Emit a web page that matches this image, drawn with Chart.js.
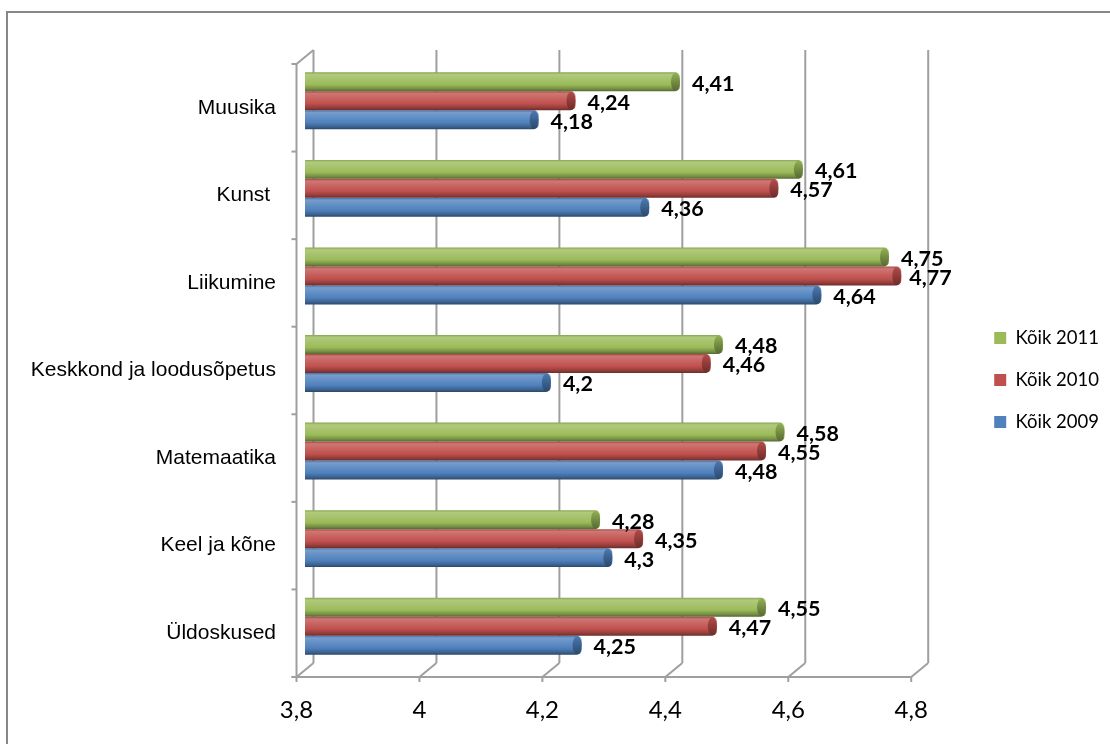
<!DOCTYPE html>
<html>
<head>
<meta charset="utf-8">
<script src="https://cdn.jsdelivr.net/npm/chart.js@4.4.1/dist/chart.umd.min.js"></script>
<style>
  html, body { margin: 0; padding: 0; background: #ffffff; }
  #wrap { width: 1110px; height: 744px; position: relative; }
</style>
</head>
<body>
<div id="wrap"><canvas id="chart" width="1110" height="744"></canvas></div>
<script>
// Subject areas, listed top to bottom
const categories = ['Muusika', 'Kunst ', 'Liikumine', 'Keskkond ja loodusõpetus', 'Matemaatika', 'Keel ja kõne', 'Üldoskused'];
const seriesNames = ['Kõik 2011', 'Kõik 2010', 'Kõik 2009'];
const koik2011 = [4.41, 4.61, 4.75, 4.48, 4.58, 4.28, 4.55];
const koik2010 = [4.24, 4.57, 4.77, 4.46, 4.55, 4.35, 4.47];
const koik2009 = [4.18, 4.36, 4.64, 4.20, 4.48, 4.30, 4.25];
const xTickLabels = ['3,8', '4', '4,2', '4,4', '4,6', '4,8'];

const seriesColors = ['#9BBB59', '#C0504D', '#4F81BD'];
const GRID = '#9f9f9f';
const DEPTH_X = 8.5;   // half depth of the 3D box, horizontal
const DEPTH_Y = 7;     // half depth of the 3D box, vertical

function mix(hex, target, f) {
  const n = parseInt(hex.slice(1), 16);
  const r = (n >> 16) & 255, g = (n >> 8) & 255, b = n & 255;
  const t = target === 'w' ? 255 : 0;
  const m = c => Math.round(c + (t - c) * f);
  return `rgb(${m(r)},${m(g)},${m(b)})`;
}

// Back wall, floor and left wall of the 3D frame, drawn behind the bars
const frame3d = {
  id: 'frame3d',
  beforeDraw(chart) {
    const ctx = chart.ctx;
    ctx.save();
    ctx.strokeStyle = '#878787';
    ctx.lineWidth = 2;
    ctx.strokeRect(7, 12, 1300, 1000);
    ctx.restore();
  },
  beforeDatasetsDraw(chart) {
    const { ctx, chartArea: { top, bottom }, scales: { x } } = chart;
    const xs = x.ticks.map(t => x.getPixelForValue(t.value));
    ctx.save();
    ctx.strokeStyle = GRID;
    ctx.lineWidth = 2;
    ctx.lineCap = 'butt';
    const line = (x1, y1, x2, y2) => { ctx.beginPath(); ctx.moveTo(x1, y1); ctx.lineTo(x2, y2); ctx.stroke(); };
    // back wall verticals, floor diagonals and front tick marks
    xs.forEach(px => {
      line(px + DEPTH_X, top - DEPTH_Y, px + DEPTH_X, bottom - DEPTH_Y);
      line(px + DEPTH_X, bottom - DEPTH_Y, px - DEPTH_X, bottom + DEPTH_Y);
      line(px - DEPTH_X, bottom + DEPTH_Y, px - DEPTH_X, bottom + DEPTH_Y + 5);
    });
    const x0 = xs[0], xN = xs[xs.length - 1];
    // front floor edge
    line(x0 - DEPTH_X - 5, bottom + DEPTH_Y, xN - DEPTH_X, bottom + DEPTH_Y);
    // left wall front edge and top slant
    line(x0 - DEPTH_X, top + DEPTH_Y, x0 - DEPTH_X, bottom + DEPTH_Y);
    line(x0 - DEPTH_X, top + DEPTH_Y, x0 + DEPTH_X, top - DEPTH_Y);
    // category separators on the left wall
    const n = categories.length;
    const band = (bottom - top) / n;
    for (let k = 0; k <= n; k++) {
      const py = top + DEPTH_Y + k * band;
      line(x0 - DEPTH_X - 5, py, x0 - DEPTH_X, py);
    }
    ctx.restore();

    // cylinder shading for every bar
    chart.data.datasets.forEach((ds, di) => {
      const base = seriesColors[di];
      chart.getDatasetMeta(di).data.forEach(el => {
        const h = el.height;
        const g = ctx.createLinearGradient(0, el.y - h / 2, 0, el.y + h / 2);
        g.addColorStop(0, mix(base, 'b', 0.12));
        g.addColorStop(0.12, mix(base, 'w', 0.22));
        g.addColorStop(0.35, mix(base, 'w', 0.12));
        g.addColorStop(0.65, base);
        g.addColorStop(0.88, mix(base, 'b', 0.25));
        g.addColorStop(1, mix(base, 'b', 0.45));
        try { el.options.backgroundColor = g; } catch (e) {}
      });
    });
  },
  afterDatasetsDraw(chart) {
    const ctx = chart.ctx;
    // end faces of the cylinders
    chart.data.datasets.forEach((ds, di) => {
      const base = seriesColors[di];
      chart.getDatasetMeta(di).data.forEach(el => {
        const h = el.height;
        const rx = 4.5;
        const g = ctx.createLinearGradient(0, el.y - h / 2, 0, el.y + h / 2);
        g.addColorStop(0, mix(base, 'b', 0.05));
        g.addColorStop(1, mix(base, 'b', 0.45));
        ctx.save();
        ctx.beginPath();
        ctx.ellipse(el.x - rx, el.y, rx, h / 2 - 0.5, 0, 0, Math.PI * 2);
        ctx.fillStyle = g;
        ctx.fill();
        ctx.restore();
      });
    });
    // value labels
    const limit = chart.chartArea.right + 32;
    ctx.save();
    ctx.font = 'bold 21.5px Lato';
    ctx.fillStyle = '#000000';
    ctx.textAlign = 'left';
    ctx.textBaseline = 'middle';
    chart.data.datasets.forEach((ds, di) => {
      chart.getDatasetMeta(di).data.forEach((el, i) => {
        const txt = String(ds.data[i]).replace('.', ',');
        const w = ctx.measureText(txt).width;
        const lx = Math.min(el.x + 12, limit - w);
        ctx.fillText(txt, lx, el.y + 2);
      });
    });
    ctx.restore();
  }
};

new Chart(document.getElementById('chart'), {
  type: 'bar',
  data: {
    labels: categories,
    datasets: [
      { label: seriesNames[0], data: koik2011, backgroundColor: c => seriesColors[0] },
      { label: seriesNames[1], data: koik2010, backgroundColor: c => seriesColors[1] },
      { label: seriesNames[2], data: koik2009, backgroundColor: c => seriesColors[2] }
    ]
  },
  options: {
    indexAxis: 'y',
    responsive: false,
    devicePixelRatio: 1,
    animation: false,
    events: [],
    layout: { padding: { left: 10, top: 30, right: 1, bottom: 14 } },
    datasets: {
      bar: {
        categoryPercentage: 0.65,
        barPercentage: 1.0,
        borderRadius: 5,
        borderSkipped: false,
        borderWidth: 0
      }
    },
    scales: {
      x: {
        type: 'linear',
        min: 3.8,
        max: 4.8,
        ticks: {
          stepSize: 0.2,
          labelOffset: -DEPTH_X,
          padding: 26,
          color: '#000000',
          font: { family: 'Lato', size: 24 },
          callback: (v, i) => xTickLabels[i] !== undefined ? xTickLabels[i] : String(v).replace('.', ',')
        },
        grid: { display: false, drawTicks: false },
        border: { display: false },
        afterFit: s => { s.height = 60; }
      },
      topGap: {
        type: 'linear',
        position: 'top',
        display: true,
        ticks: { display: false },
        grid: { display: false, drawTicks: false },
        border: { display: false },
        afterFit: s => { s.height = 27; }
      },
      y: {
        type: 'category',
        offset: true,
        ticks: {
          padding: 29,
          labelOffset: DEPTH_Y,
          color: '#000000',
          font: { family: '"Liberation Sans", Arial, sans-serif', size: 21 }
        },
        grid: { display: false, drawTicks: false },
        border: { display: false },
        afterFit: s => { s.width = 295; }
      },
      rightGap: {
        type: 'linear',
        position: 'right',
        display: true,
        ticks: { display: false },
        grid: { display: false, drawTicks: false },
        border: { display: false },
        afterFit: s => { s.width = 51; }
      }
    },
    plugins: {
      tooltip: { enabled: false },
      legend: {
        position: 'right',
        labels: {
          boxWidth: 12,
          boxHeight: 12,
          padding: 23.5,
          color: '#111111',
          font: { family: 'Lato', size: 18.5 },
          generateLabels: chart => chart.data.datasets.map((ds, i) => ({
            text: ds.label,
            fillStyle: seriesColors[i],
            strokeStyle: seriesColors[i],
            lineWidth: 0,
            hidden: false,
            datasetIndex: i
          }))
        }
      }
    }
  },
  plugins: [frame3d]
});
</script>
</body>
</html>
